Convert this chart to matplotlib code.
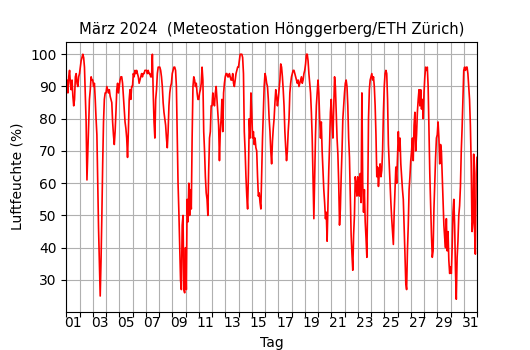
import matplotlib
matplotlib.use("Agg")
import matplotlib.pyplot as plt
import matplotlib.dates as mdates
import numpy as np
import pandas as pd

hum_w1 = [89, 92, 88, 93, 95, 91, 89, 92, 87, 84, 86, 93, 94, 91, 90, 93,
          94, 96, 98, 99, 100, 99, 96, 88, 79, 61, 69, 78, 86, 89, 93, 92,
          92, 90, 91, 86, 80, 75, 61, 46, 35, 25, 36, 50, 66, 79, 86, 88,
          88, 90, 89, 88, 89, 87, 86, 85, 79, 75, 72, 76, 82, 89, 91, 88,
          90, 92, 93, 93, 91, 87, 83, 79, 77, 74, 68, 76, 86, 89, 86, 90,
          90, 94, 93, 95, 94, 95, 94, 93, 91, 92, 93, 94, 93, 94, 94, 95,
          95, 95, 94, 95, 94, 94, 93, 93, 100, 88, 79, 74, 86, 89, 94, 96]
hum_w2 = [96, 96, 95, 93, 90, 85, 82, 80, 78, 74, 71, 76, 84, 88, 90, 91,
          94, 95, 96, 96, 95, 90, 75, 60, 51, 40, 30, 27, 47, 50, 27, 26,
          40, 27, 55, 48, 60, 50, 58, 52, 74, 90, 93, 92, 90, 91, 88, 86,
          86, 88, 89, 91, 96, 92, 76, 70, 62, 57, 55, 50, 64, 74, 76, 84,
          84, 88, 85, 84, 88, 90, 86, 82, 78, 67, 76, 80, 86, 76, 88, 91,
          93, 94, 94, 93, 93, 94, 93, 92, 92, 94, 91, 90, 92, 94, 95, 96,
          96, 98, 100, 100, 100, 99, 94, 76, 70, 62, 56, 52, 63, 80, 74, 88]
hum_w3 = [82, 74, 76, 72, 74, 71, 70, 62, 56, 57, 54, 52, 63, 74, 82, 90,
          94, 93, 91, 90, 86, 80, 76, 70, 66, 73, 77, 80, 85, 89, 87, 84,
          86, 89, 92, 97, 96, 93, 89, 84, 76, 71, 67, 70, 76, 80, 88, 91,
          93, 94, 95, 95, 94, 93, 92, 91, 92, 90, 91, 92, 93, 91, 92, 94,
          95, 97, 100, 100, 98, 94, 91, 88, 82, 74, 62, 49, 62, 75, 84, 88,
          92, 88, 80, 74, 79, 70, 64, 58, 54, 49, 51, 42, 53, 64, 72, 82,
          86, 78, 74, 84, 93, 90, 82, 74, 69, 60, 47, 52, 62, 70, 80, 84]
hum_w4 = [88, 91, 92, 90, 84, 74, 68, 56, 44, 38, 33, 44, 50, 62, 60, 56,
          62, 58, 56, 63, 54, 88, 60, 51, 58, 48, 43, 37, 55, 80, 89, 92,
          93, 94, 92, 93, 90, 84, 75, 62, 65, 59, 63, 66, 62, 64, 70, 82,
          90, 94, 95, 94, 86, 72, 66, 60, 54, 49, 45, 41, 51, 58, 65, 60,
          68, 76, 70, 74, 66, 62, 58, 55, 47, 38, 29, 27, 39, 47, 58, 62,
          67, 70, 74, 67, 78, 82, 70, 75, 82, 86, 89, 84, 89, 83, 86, 80,
          88, 93, 96, 95, 96, 90, 77, 63, 53, 44, 37, 39, 52, 60, 68, 74]
hum_w5 = [75, 79, 74, 66, 72, 70, 62, 53, 47, 43, 40, 49, 39, 45, 36, 32,
          34, 32, 40, 51, 55, 47, 33, 24, 37, 42, 50, 53, 59, 70, 77, 86,
          95, 96, 95, 96, 96, 94, 90, 86, 78, 66, 45, 48, 69, 46, 38, 63,
          68]

hum = np.array(hum_w1 + hum_w2 + hum_w3 + hum_w4 + hum_w5)
zeit = pd.date_range("2024-03-01 00:00", periods=len(hum), freq="90min")

fig, ax = plt.subplots(figsize=(5.3, 3.5), dpi=100)
ax.plot(zeit, hum, color="red", linewidth=1.2)

ax.set_xlim(zeit[0], zeit[-1])
ax.xaxis.set_major_locator(mdates.DayLocator())
ax.xaxis.set_major_formatter(plt.NullFormatter())
mitte = [pd.Timestamp(2024, 3, d, 12) for d in range(1, 32, 2)]
ax.xaxis.set_minor_locator(plt.FixedLocator(mdates.date2num(mitte)))
ax.xaxis.set_minor_formatter(mdates.DateFormatter("%d"))
ax.tick_params(axis="x", which="minor", length=0)

ax.grid(True)
ax.set_title("März 2024  (Meteostation Hönggerberg/ETH Zürich)", fontsize=10.6)
ax.set_xlabel("Tag")
ax.set_ylabel("Luftfeuchte (%)")

plt.savefig("out.png")
